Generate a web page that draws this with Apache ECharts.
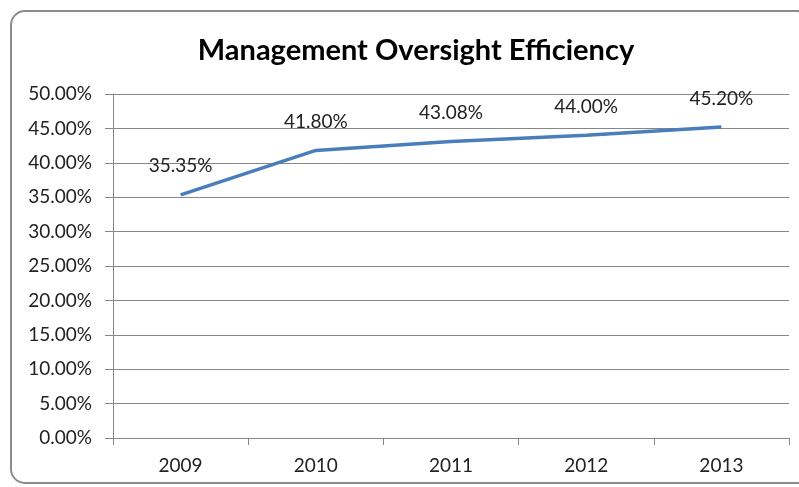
<!DOCTYPE html>
<html>
<head>
<meta charset="utf-8">
<script src="https://cdn.jsdelivr.net/npm/echarts@6/dist/echarts.min.js"></script>
<style>
html, body { margin: 0; padding: 0; background: #fff; }
#main { width: 799px; height: 487px; }
</style>
</head>
<body>
<div id="main"></div>
<script>
var years = ['2009', '2010', '2011', '2012', '2013'];
var efficiency = [35.35, 41.80, 43.08, 44.00, 45.20];

var chart = echarts.init(document.getElementById('main'));

var font = 'Lato, "Open Sans", sans-serif';

var option = {
  animation: false,
  backgroundColor: '#fff',
  title: {
    text: 'Management Oversight Efficiency',
    left: 411,
    top: 31,
    textAlign: 'center',
    textStyle: { fontFamily: font, fontSize: 29, fontWeight: 'bold', color: '#000' }
  },
  graphic: [{
    type: 'rect',
    shape: { x: 11, y: 11, width: 800, height: 472, r: 14 },
    style: { fill: 'none', stroke: '#8c8c8c', lineWidth: 2 },
    silent: true
  }],
  grid: { left: 113, right: 10, top: 94, bottom: 49 },
  xAxis: {
    type: 'category',
    data: years,
    boundaryGap: true,
    axisLine: { lineStyle: { color: '#868686', width: 1 } },
    axisTick: { show: true, length: 7, lineStyle: { color: '#868686' } },
    axisLabel: { color: '#222', fontFamily: font, fontSize: 19, margin: 18 }
  },
  yAxis: {
    type: 'value',
    min: 0,
    max: 50,
    interval: 5,
    axisLine: { show: true, lineStyle: { color: '#868686', width: 1 } },
    axisTick: { show: true, length: 8, lineStyle: { color: '#868686' } },
    splitLine: { lineStyle: { color: '#868686', width: 1 } },
    axisLabel: {
      color: '#222', fontFamily: font, fontSize: 19, margin: 21,
      formatter: function (v) { return v.toFixed(2) + '%'; }
    }
  },
  series: [{
    type: 'line',
    data: efficiency,
    symbol: 'circle',
    symbolSize: 2,
    itemStyle: { color: 'rgba(0,0,0,0)' },
    lineStyle: { color: '#4a7ebb', width: 3.5 },
    label: {
      show: true,
      position: 'top',
      distance: 18,
      color: '#222',
      fontFamily: font,
      fontSize: 19,
      formatter: function (p) { return p.value.toFixed(2) + '%'; }
    }
  }]
};

chart.setOption(option);
</script>
</body>
</html>
